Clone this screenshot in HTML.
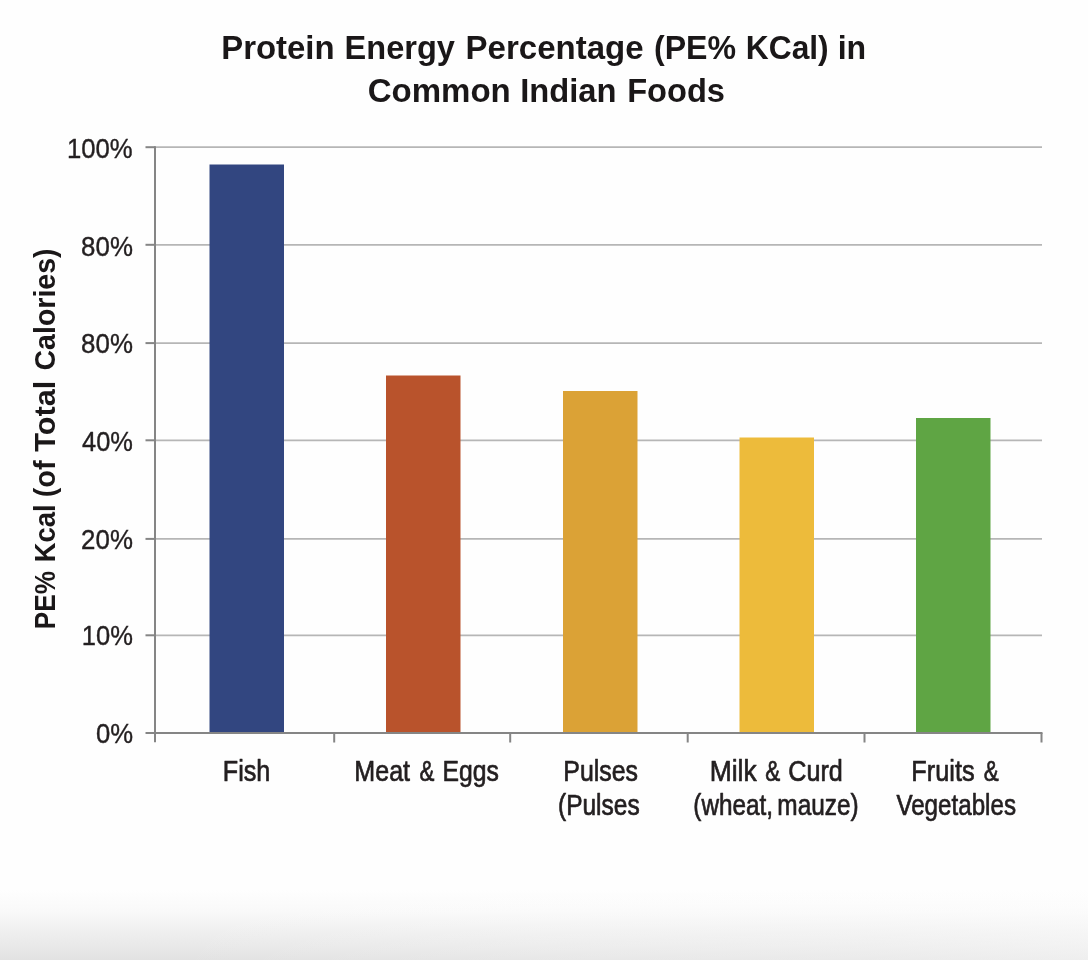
<!DOCTYPE html>
<html lang="en">
<head>
<meta charset="utf-8">
<title>Protein Energy Percentage (PE% KCal) in Common Indian Foods</title>
<style>
html,body{margin:0;padding:0;background:#fefefe;}
body{width:1088px;height:960px;overflow:hidden;position:relative;font-family:"Liberation Sans",sans-serif;}
svg{position:absolute;left:0;top:0;display:block;}
.title{font-family:"Liberation Sans",sans-serif;font-weight:bold;font-size:33.6px;fill:#1a1718;text-anchor:start;}
.ytick{font-family:"Liberation Sans",sans-serif;font-size:28.3px;fill:#231f20;text-anchor:start;stroke:#231f20;stroke-width:0.4px;stroke-linejoin:round;}
.xlab{font-family:"Liberation Sans",sans-serif;font-size:29.4px;fill:#231f20;text-anchor:start;stroke:#231f20;stroke-width:0.7px;stroke-linejoin:round;}
.ylab{font-family:"Liberation Sans",sans-serif;font-weight:bold;font-size:30.3px;fill:#1a1718;text-anchor:start;}
</style>
</head>
<body>
<svg width="1088" height="960" viewBox="0 0 1088 960">
  <defs>
    <linearGradient id="bg" x1="0" y1="0" x2="0" y2="1">
      <stop offset="0" stop-color="#fefefe"/>
      <stop offset="0.3" stop-color="#f9f9f9"/>
      <stop offset="0.6" stop-color="#efefef"/>
      <stop offset="1" stop-color="#e2e2e2"/>
    </linearGradient>
    <linearGradient id="bgx" x1="0" y1="0" x2="1" y2="0">
      <stop offset="0" stop-color="#fefefe" stop-opacity="0"/>
      <stop offset="0.15" stop-color="#fefefe" stop-opacity="0"/>
      <stop offset="0.5" stop-color="#fefefe" stop-opacity="0.2"/>
      <stop offset="0.8" stop-color="#fefefe" stop-opacity="0.3"/>
      <stop offset="1" stop-color="#fefefe" stop-opacity="0.45"/>
    </linearGradient>
  </defs>
  <rect x="0" y="0" width="1088" height="960" fill="#fefefe"/>
  <rect x="0" y="890" width="1088" height="70" fill="url(#bg)"/>
  <rect x="0" y="890" width="1088" height="70" fill="url(#bgx)"/>

  <!-- gridlines -->
  <g stroke="#b6b6b6" stroke-width="1.800" fill="none">
    <line x1="155" y1="147.2" x2="1042" y2="147.2"/>
    <line x1="155" y1="244.8" x2="1042" y2="244.8"/>
    <line x1="155" y1="343.1" x2="1042" y2="343.1"/>
    <line x1="155" y1="440.3" x2="1042" y2="440.3"/>
    <line x1="155" y1="538.9" x2="1042" y2="538.9"/>
    <line x1="155" y1="635.3" x2="1042" y2="635.3"/>
  </g>

  <!-- bars -->
  <rect x="209.5" y="164.5" width="74.5" height="569" fill="#324680"/>
  <rect x="386" y="375.5" width="74.5" height="358" fill="#b9532c"/>
  <rect x="563" y="391" width="74.5" height="342.5" fill="#dba236"/>
  <rect x="739.5" y="437.5" width="74.5" height="296" fill="#edbb3b"/>
  <rect x="916" y="418" width="74.5" height="315.5" fill="#5fa544"/>

  <!-- axes -->
  <g stroke="#858585" stroke-width="2" fill="none">
    <line x1="155" y1="146.2" x2="155" y2="742.3"/>
    <line x1="145.500" y1="147.2" x2="155" y2="147.2"/>
    <line x1="145.500" y1="244.8" x2="155" y2="244.8"/>
    <line x1="145.500" y1="343.1" x2="155" y2="343.1"/>
    <line x1="145.500" y1="440.3" x2="155" y2="440.3"/>
    <line x1="145.500" y1="538.9" x2="155" y2="538.9"/>
    <line x1="145.500" y1="635.3" x2="155" y2="635.3"/>
    <line x1="145.500" y1="733.1" x2="1042.5" y2="733.1"/>
    <line x1="334.2" y1="733" x2="334.2" y2="742.5"/>
    <line x1="510.2" y1="733" x2="510.2" y2="742.5"/>
    <line x1="687.7" y1="733" x2="687.7" y2="742.5"/>
    <line x1="864.5" y1="733" x2="864.5" y2="742.5"/>
    <line x1="1041.5" y1="733" x2="1041.5" y2="742.5"/>
  </g>

  <!-- title -->
  <text class="title" y="59.1"><tspan x="221.2" textLength="113.4" lengthAdjust="spacingAndGlyphs">Protein</tspan> <tspan x="344.6" textLength="110.3" lengthAdjust="spacingAndGlyphs">Energy</tspan> <tspan x="465.6" textLength="177.9" lengthAdjust="spacingAndGlyphs">Percentage</tspan> <tspan x="654.0" textLength="82.1" lengthAdjust="spacingAndGlyphs">(PE%</tspan> <tspan x="745.8" textLength="82.9" lengthAdjust="spacingAndGlyphs">KCal)</tspan> <tspan x="837.7" textLength="28.5" lengthAdjust="spacingAndGlyphs">in</tspan></text>
  <text class="title" y="102.1"><tspan x="367.7" textLength="143.1" lengthAdjust="spacingAndGlyphs">Common</tspan> <tspan x="520.2" textLength="96.4" lengthAdjust="spacingAndGlyphs">Indian</tspan> <tspan x="627.2" textLength="97.8" lengthAdjust="spacingAndGlyphs">Foods</tspan></text>

  <!-- y tick labels -->
  <text class="ytick" x="66.9" y="158.1" textLength="65.7" lengthAdjust="spacingAndGlyphs">100%</text>
  <text class="ytick" x="81.1" y="255.5" textLength="51.8" lengthAdjust="spacingAndGlyphs">80%</text>
  <text class="ytick" x="81.1" y="353.4" textLength="51.8" lengthAdjust="spacingAndGlyphs">80%</text>
  <text class="ytick" x="82.0" y="451.2" textLength="50.9" lengthAdjust="spacingAndGlyphs">40%</text>
  <text class="ytick" x="81.1" y="548.7" textLength="51.8" lengthAdjust="spacingAndGlyphs">20%</text>
  <text class="ytick" x="81.8" y="645.3" textLength="51.1" lengthAdjust="spacingAndGlyphs">10%</text>
  <text class="ytick" x="96.0" y="743.3" textLength="37.1" lengthAdjust="spacingAndGlyphs">0%</text>

  <!-- y axis label -->
  <text class="ylab" transform="translate(55.4 627.5) rotate(-90)"><tspan x="-1.7" textLength="58.3" lengthAdjust="spacingAndGlyphs">PE%</tspan> <tspan x="65.3" textLength="57.8" lengthAdjust="spacingAndGlyphs">Kcal</tspan> <tspan x="130.2" textLength="37.0" lengthAdjust="spacingAndGlyphs">(of</tspan> <tspan x="175.8" textLength="70.9" lengthAdjust="spacingAndGlyphs">Total</tspan> <tspan x="257.0" textLength="122.1" lengthAdjust="spacingAndGlyphs">Calories)</tspan></text>

  <!-- x labels -->
  <text class="xlab" y="780.8"><tspan x="222.8" textLength="47.5" lengthAdjust="spacingAndGlyphs">Fish</tspan></text>
  <text class="xlab" y="780.8"><tspan x="354.3" textLength="55.8" lengthAdjust="spacingAndGlyphs">Meat</tspan> <tspan x="419.5" textLength="14.9" lengthAdjust="spacingAndGlyphs">&amp;</tspan> <tspan x="442.6" textLength="56.4" lengthAdjust="spacingAndGlyphs">Eggs</tspan></text>
  <text class="xlab" y="780.8"><tspan x="563.3" textLength="74.7" lengthAdjust="spacingAndGlyphs">Pulses</tspan></text>
  <text class="xlab" y="814.8"><tspan x="558.0" textLength="81.7" lengthAdjust="spacingAndGlyphs">(Pulses</tspan></text>
  <text class="xlab" y="780.8"><tspan x="709.7" textLength="47.0" lengthAdjust="spacingAndGlyphs">Milk</tspan> <tspan x="765.3" textLength="15.0" lengthAdjust="spacingAndGlyphs">&amp;</tspan> <tspan x="788.3" textLength="54.5" lengthAdjust="spacingAndGlyphs">Curd</tspan></text>
  <text class="xlab" y="814.8"><tspan x="693.3" textLength="79.7" lengthAdjust="spacingAndGlyphs">(wheat,</tspan> <tspan x="777.3" textLength="81.4" lengthAdjust="spacingAndGlyphs">mauze)</tspan></text>
  <text class="xlab" y="780.8"><tspan x="911.3" textLength="63.3" lengthAdjust="spacingAndGlyphs">Fruits</tspan> <tspan x="983.7" textLength="15.0" lengthAdjust="spacingAndGlyphs">&amp;</tspan></text>
  <text class="xlab" y="814.8"><tspan x="896.4" textLength="119.6" lengthAdjust="spacingAndGlyphs">Vegetables</tspan></text>
</svg>
</body>
</html>
